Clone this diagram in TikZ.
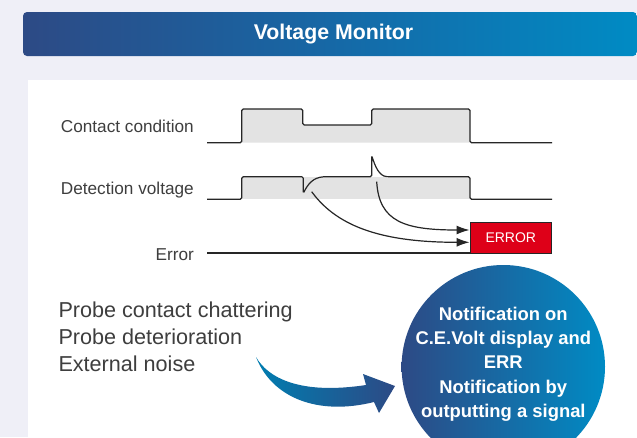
\documentclass[tikz,border=0pt]{standalone}
\usepackage{fontspec}
\setmainfont{Liberation Sans}
\usetikzlibrary{arrows.meta}

\definecolor{pagebg}{RGB}{239,239,247}
\definecolor{navyblue}{RGB}{45,74,133}
\definecolor{seablue}{RGB}{0,139,196}
\definecolor{midblue}{RGB}{22,104,166}
\definecolor{textgray}{RGB}{62,62,62}
\definecolor{fillgray}{RGB}{227,227,227}
\definecolor{errred}{RGB}{222,0,24}

\tikzset{
  wave/.style={line width=1.2pt, black!85, rounded corners=1.5pt},
  label/.style={anchor=east, inner sep=0pt, text=textgray, font=\fontsize{17.2}{20}\selectfont},
  cause/.style={anchor=base west, inner sep=0pt, text=textgray, font=\fontsize{21.6}{26}\selectfont},
  flow/.style={line width=1.2pt, black!85, -{Latex[length=13pt,width=9pt]}},
}

\begin{document}
\begin{tikzpicture}[x=1pt,y=-1pt]
	\useasboundingbox (0,0) rectangle (637,437);
	\clip (0,0) rectangle (637,437);
	
	\fill[pagebg] (0,0) rectangle (637,437);
	\shade[left color=navyblue, right color=seablue, middle color=midblue, rounded corners=4pt]
		(23,12) rectangle (637,56);
	\node[text=white, font=\fontsize{21.3}{24}\selectfont\bfseries] (title) at (333.5,34) {Voltage Monitor};
	\fill[white] (28,80) rectangle (640,440);
	
	% signal names
	\node[label] (contact) at (194,126) {Contact condition};
	\node[label] (detect) at (194,190) {Detection voltage};
	\node[label] (error) at (194,254.5) {Error};
	
	% contact condition
	\fill[fillgray] (241.7,142.7) -- (241.7,109) -- (302.7,109) -- (302.7,125) -- (371.7,125)
		-- (371.7,109) -- (470,109) -- (470,142.7) -- cycle;
	\draw[wave] (207,142.7) -- (241.7,142.7) -- (241.7,109) -- (302.7,109) -- (302.7,125)
		-- (371.7,125) -- (371.7,109) -- (470,109) -- (470,142.7) -- (552,142.7);
	
	% detection voltage
	\fill[fillgray] (241.7,176.7) rectangle (470,199.3);
	\draw[wave] (207,199.3) -- (241.7,199.3) -- (241.7,176.7) -- (303.3,176.7) -- (303.3,193.3)
		.. controls (308,184) and (313,177.5) .. (325,176.7) -- (371.7,176.7) -- (371.7,155.5)
		.. controls (375,166) and (379,176) .. (388,176.7) -- (470,176.7) -- (470,199.3) -- (552,199.3);
	
	% error line and box
	\draw[wave] (207,253) -- (470,253);
	\node[draw=black!85, line width=0.9pt, fill=errred, minimum width=81.7pt, minimum height=31pt,
		inner sep=0pt, text=white, font=\fontsize{14}{16}\selectfont] (errbox) at (510.8,237.7) {ERROR};
	
	\coordinate (dip) at (311.7,191.7);
	\coordinate (spike) at (376.7,181.7);
	\draw[flow] (dip) .. controls (338,228) and (385,242.3) .. (errbox.west |- 0,242.3);
	\draw[flow] (spike) .. controls (379,222) and (405,230) .. (errbox.west |- 0,230);
	
	% causes
	\node[cause] (chatter) at (58.3,317.7) {Probe contact chattering};
	\node[cause] (wear) at (58.3,344.3) {Probe deterioration};
	\node[cause] (noise) at (58.3,371) {External noise};
	
	% swoosh arrow
	\shade[left color=seablue!90!black, right color=navyblue]
		(256,357) .. controls (268,378) and (300,395) .. (366,385) -- (363,374) -- (395,386)
		-- (379,413) -- (374,402) .. controls (318,416) and (272,398) .. cycle;
	
	% result circle
	\shade[left color=navyblue, right color=seablue] (503.3,366.7) circle (101.7);
	\node[align=center, inner sep=0pt, text=white, font=\fontsize{18.4}{24}\selectfont\bfseries]
		(notify) at (503.3,364.5)
		{Notification on\\C.E.Volt display and\\ERR\\[1pt]Notification by\\outputting a signal};
\end{tikzpicture}
\end{document}
